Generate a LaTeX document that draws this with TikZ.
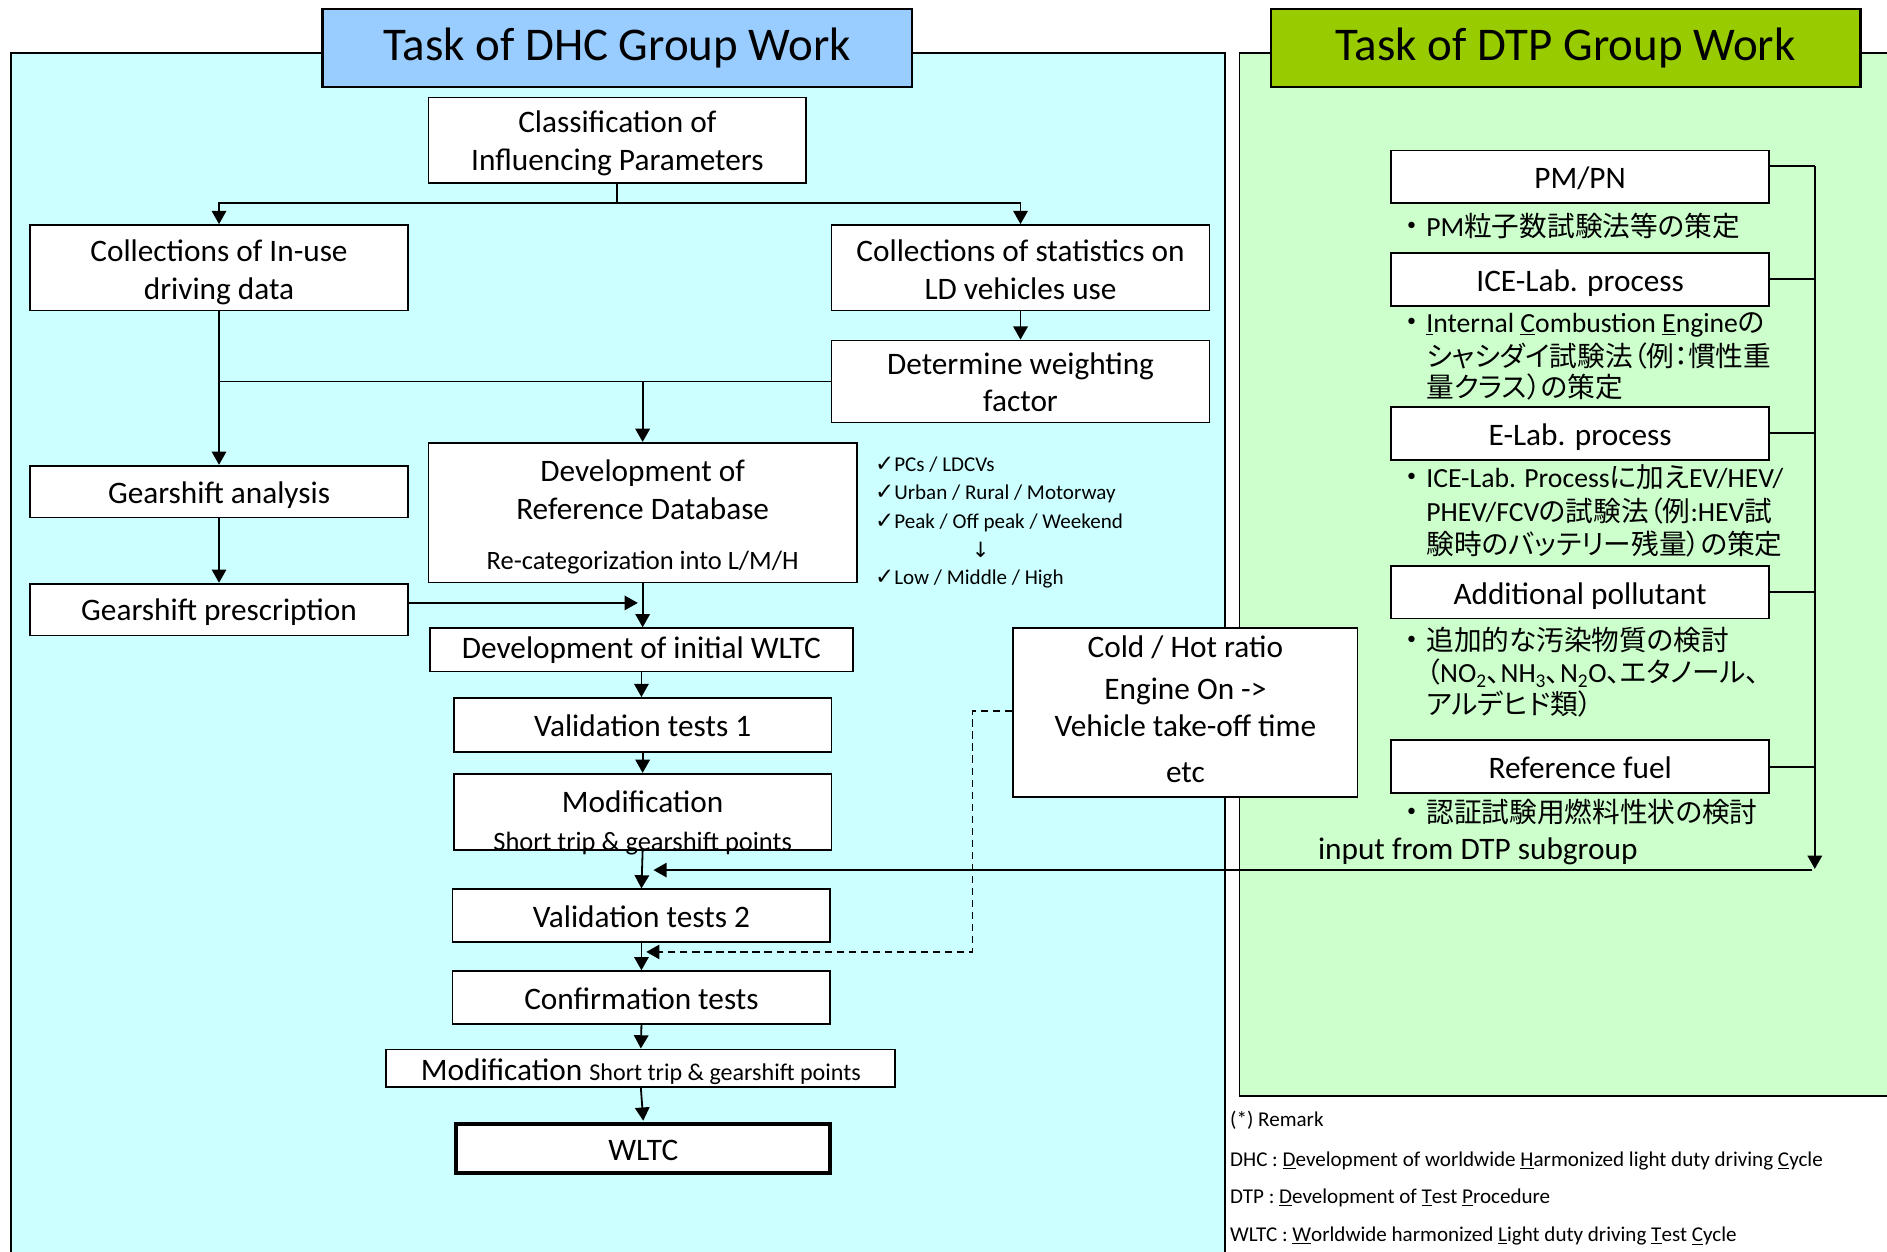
\documentclass[tikz,border=0pt]{standalone}
\usepackage{fontspec}
\setmainfont{Carlito}
\newfontfamily\jpf[RawFeature={+palt}]{Noto Sans CJK JP}
\newfontfamily\symf{DejaVu Sans}
\usetikzlibrary{arrows.meta}
\definecolor{bluebg}{HTML}{CCFFFF}
\definecolor{bluetitle}{HTML}{99CCFF}
\definecolor{greenbg}{HTML}{CCFFCC}
\definecolor{greentitle}{HTML}{99CC00}
\newcommand{\ckm}{{\symf\fontsize{19}{21}\selectfont ✓}}
\begin{document}
\begin{tikzpicture}[x=1pt,y=-1pt,
  pl/.style={draw=black, line width=1.5pt},
  bx/.style={draw=black, fill=white, line width=1.5pt, inner sep=0pt, align=center,
             font=\fontsize{26}{32}\selectfont},
  ttl/.style={draw=black, line width=2pt, inner sep=0pt, minimum width=490pt,
             minimum height=65pt, font=\fontsize{39}{44}\selectfont},
  t26/.style={inner sep=0pt, font=\fontsize{26}{32}\selectfont, text height=23pt, text depth=5pt},
  t22/.style={inner sep=0pt, font=\fontsize{22}{27}\selectfont, text height=21pt, text depth=5pt},
  t23/.style={inner sep=0pt, font=\fontsize{23}{27}\selectfont, text height=22pt, text depth=5pt, anchor=west},
  bul/.style={inner sep=0pt, font=\fontsize{15}{18}\selectfont},
  t17/.style={inner sep=0pt, font=\fontsize{17.5}{21}\selectfont, text height=16pt, text depth=4pt, anchor=west},
  ln/.style={line width=1.5pt},
  arr/.style={line width=1.5pt, -{Triangle[length=11pt,width=12pt]}},
  dsh/.style={line width=1.3pt, dash pattern=on 6pt off 4pt, -{Triangle[length=11pt,width=12pt]}}
]
\useasboundingbox (0,0) rectangle (1568,1040);
% panels
\fill[bluebg] (9,44) rectangle (1018,1060);
\draw[pl] (9,1060) -- (9,44) -- (1018,44) -- (1018,1060);
\fill[greenbg] (1030,44) rectangle (1580,911);
\draw[pl] (1580,911) -- (1030,911) -- (1030,44) -- (1580,44);
% titles
\node[ttl, fill=bluetitle] (t1) at (513,40) {Task of DHC Group Work};
\node[ttl, fill=greentitle] (t2) at (1301,40) {Task of DTP Group Work};

% DHC boxes
\node[bx, minimum width=314pt, minimum height=71pt] (cls) at (513,116.5) {};
\node[t26] (cls1) at (513,101) {Classification of};
\node[t26] (cls2) at (513,133) {Influencing Parameters};
\node[bx, minimum width=314pt, minimum height=71pt] (inuse) at (182,222.5) {};
\node[t26] (inuse1) at (182,208) {Collections of In-use};
\node[t26] (inuse2) at (182,240) {driving data};
\node[bx, minimum width=314pt, minimum height=71pt] (stats) at (848,222.5) {};
\node[t26] (stats1) at (848,208) {Collections of statistics on};
\node[t26] (stats2) at (848,240) {LD vehicles use};
\node[bx, minimum width=314pt, minimum height=68pt] (weight) at (848,317) {};
\node[t26] (weight1) at (848,302) {Determine weighting};
\node[t26] (weight2) at (848,333) {factor};
\node[bx, minimum width=314pt, minimum height=43pt] (gana) at (182,408.5) {};
\node[t26] (gana1) at (182,409) {Gearshift analysis};
\node[bx, minimum width=356pt, minimum height=116pt] (refdb) at (534,426) {};
\node[t26] (refdb1) at (534,391) {Development of};
\node[t26] (refdb2) at (534,423) {Reference Database};
\node[t22] (refdb3) at (534,465) {Re-categorization into L/M/H};
\node[bx, minimum width=314pt, minimum height=43pt] (gpres) at (182,506.5) {};
\node[t26] (gpres1) at (182,507) {Gearshift prescription};
\node[bx, minimum width=352pt, minimum height=36pt] (init) at (533,540) {};
\node[t26] (init1) at (533,538) {Development of initial WLTC};
\node[bx, minimum width=314pt, minimum height=45pt] (val1) at (534,602.5) {};
\node[t26] (val1a) at (534,603) {Validation tests 1};
\node[bx, minimum width=314pt, minimum height=63pt] (mod1) at (534,674.5) {};
\node[t26] (mod1a) at (534,666) {Modification};
\node[t22] (mod1b) at (534,699) {Short trip \& gearshift points};
\node[bx, minimum width=314pt, minimum height=44pt] (val2) at (533,761) {};
\node[t26] (val2a) at (533,762) {Validation tests 2};
\node[bx, minimum width=314pt, minimum height=44pt] (conf) at (533,829) {};
\node[t26] (conf1) at (533,830) {Confirmation tests};
\node[bx, minimum width=423pt, minimum height=31pt] (mod2) at (532.5,887.5) {};
\node[t26] (mod2a) at (532.5,889)
  {Modification {\fontsize{20}{24}\selectfont Short trip \& gearshift points}};
\node[bx, line width=3.5pt, minimum width=311pt, minimum height=41pt] (wltc) at (534.5,954.5) {};
\node[t26] (wltc1) at (534.5,955) {WLTC};

% check list
\node[t17] (ck1) at (727,386) {\ckm PCs / LDCVs};
\node[t17] (ck2) at (727,409) {\ckm Urban / Rural / Motorway};
\node[t17] (ck3) at (727,433) {\ckm Peak / Off peak / Weekend};
\node[t17, anchor=center] (ck4) at (815,457) {{\symf ↓}};
\node[t17] (ck5) at (727,480) {\ckm Low / Middle / High};

% cold/hot box
\node[bx, minimum width=286pt, minimum height=140pt] (cold) at (985,592) {};
\node[t26] (cold1) at (985,537) {Cold / Hot ratio};
\node[t26] (cold2) at (985,572) {Engine On ->};
\node[t26] (cold3) at (985,603) {Vehicle take-off time};
\node[t26] (cold4) at (985,641) {etc};

% DTP boxes
\node[bx, minimum width=314pt, minimum height=44pt] (pm) at (1313,147) {};
\node[t26] (pmt) at (1313,148) {PM/PN};
\node[bx, minimum width=314pt, minimum height=44pt] (ice) at (1313,232) {};
\node[t26] (icet) at (1313,233) {ICE-Lab. process};
\node[bx, minimum width=314pt, minimum height=44pt] (elab) at (1313,360) {};
\node[t26] (elabt) at (1313,361) {E-Lab. process};
\node[bx, minimum width=314pt, minimum height=44pt] (addp) at (1313,492) {};
\node[t26] (addpt) at (1313,493) {Additional pollutant};
\node[bx, minimum width=314pt, minimum height=44pt] (ref) at (1313,637) {};
\node[t26] (reft) at (1313,638) {Reference fuel};

% DTP bullets
\node[bul] (bu1) at (1173,188) {•};
\node[t23] (pm1) at (1185,188) {PM{\jpf 粒子数試験法等の策定}};
\node[bul] (bu2) at (1173,268) {•};
\node[t23] (ice1) at (1185,268) {\underline{I}nternal \underline{C}ombustion \underline{E}ngine{\jpf の}};
\node[t23] (ice2) at (1185,296) {\jpf シャシダイ試験法（例：慣性重};
\node[t23] (ice3) at (1185,322) {\jpf 量クラス）の策定};
\node[bul] (bu3) at (1173,397) {•};
\node[t23] (el1) at (1185,397) {ICE-Lab. Process{\jpf に加え}EV/HEV/};
\node[t23] (el2) at (1185,425) {PHEV/FCV{\jpf の試験法（例}:HEV{\jpf 試}};
\node[t23] (el3) at (1185,452) {\jpf 験時のバッテリー残量）の策定};
\node[bul] (bu4) at (1173,532) {•};
\node[t23] (ad1) at (1185,532) {\jpf 追加的な汚染物質の検討};
\node[t23] (ad2) at (1185,559) {{\jpf （}NO\textsubscript{2}{\jpf 、}NH\textsubscript{3}{\jpf 、}N\textsubscript{2}O{\jpf 、エタノール、}};
\node[t23] (ad3) at (1185,585) {\jpf アルデヒド類）};
\node[bul] (bu5) at (1173,675) {•};
\node[t23] (rf1) at (1185,675) {\jpf 認証試験用燃料性状の検討};
\node[t26, anchor=west] (inlbl) at (1095,705) {input from DTP subgroup};

% remarks
\node[t17] (rm0) at (1022,930) {(*) Remark};
\node[t17] (rm1) at (1022,963) {DHC : \underline{D}evelopment of worldwide \underline{H}armonized light duty driving \underline{C}ycle};
\node[t17] (rm2) at (1022,994) {DTP : \underline{D}evelopment of \underline{T}est \underline{P}rocedure};
\node[t17] (rm3) at (1022,1026) {WLTC : \underline{W}orldwide harmonized \underline{L}ight duty driving \underline{T}est \underline{C}ycle};

% coordinates
\coordinate (splitc) at (513,169);
\coordinate (gpin) at (530,501);
\coordinate (bustop) at (1508,138);
\coordinate (busend) at (1508,722);
\coordinate (inA) at (1506,723);
\coordinate (inB) at (543,723);
\coordinate (dA) at (808,591);
\coordinate (dB) at (808,791);
\coordinate (dC) at (537,791);

% connectors
\draw[ln] (cls.south) -- (splitc);
\draw[arr] (splitc) -| (inuse.north);
\draw[arr] (splitc) -| (stats.north);
\draw[arr] (stats.south) -- (weight.north);
\draw[arr] (inuse.south) -- (gana.north);
\draw[ln] (weight.west) -- (inuse.south |- weight.west);
\draw[arr] (refdb.north |- weight.west) -- (refdb.north);
\draw[arr] (gana.south) -- (gpres.north);
\draw[arr] ([yshift=5.5pt]gpres.east) -- (gpin);
\draw[arr] (refdb.south) -- (refdb.south |- init.north);
\draw[arr] (init.south) -- (init.south |- val1.north);
\draw[arr] (val1.south) -- (mod1.north);
\draw[arr] (mod1.south) -- (val2.north);
\draw[arr] (val2.south) -- (conf.north);
\draw[arr] (conf.south) -- (mod2.north);
\draw[arr] (mod2.south) -- ([yshift=1pt]wltc.north);
\draw[ln] ([yshift=9pt]pm.east) -- (bustop);
\foreach \n in {ice,elab,addp,ref} \draw[ln] (\n.east) -- (\n.east -| bustop);
\draw[arr] (bustop) -- (busend);
\draw[arr] (inA) -- (inB);
\draw[dsh] (cold.west |- dA) -- (dA) -- (dB) -- (dC);
\end{tikzpicture}
\end{document}
